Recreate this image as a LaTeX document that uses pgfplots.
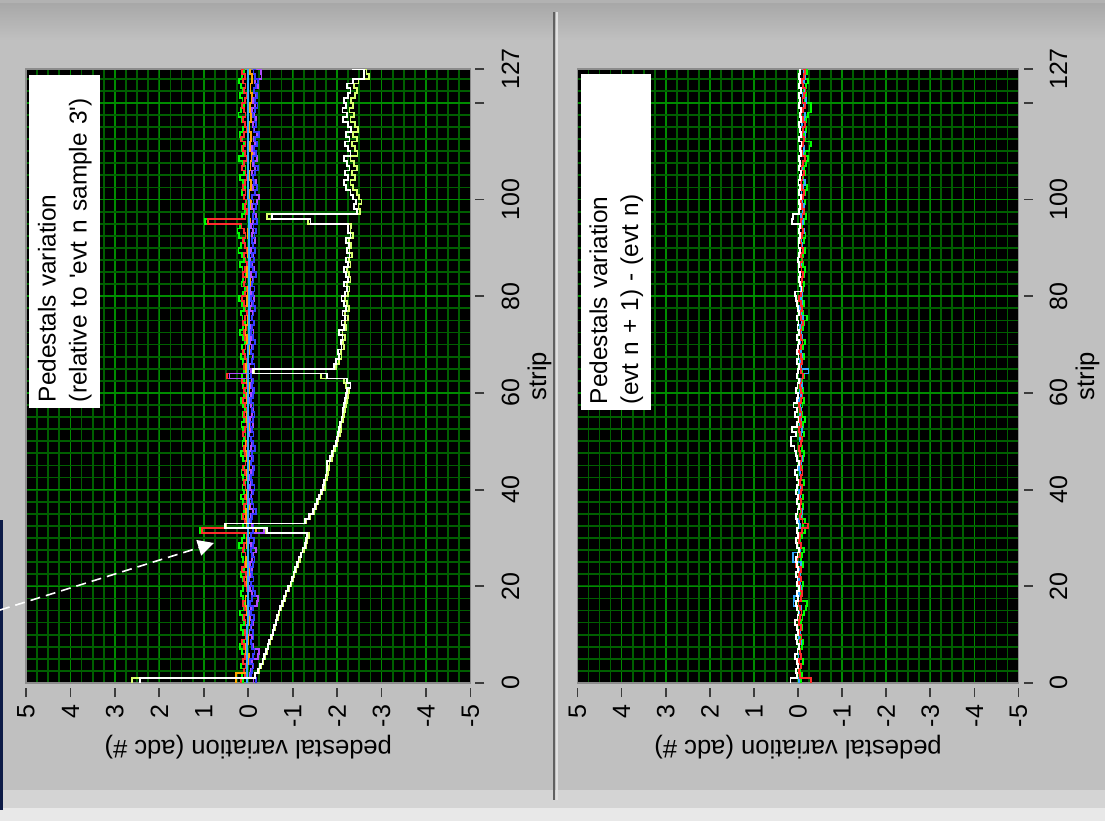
\documentclass[border=0pt]{standalone}
\usepackage{fontspec}
\setmainfont{Liberation Sans}
\usepackage{pgfplots}
\pgfplotsset{compat=1.18}
\usetikzlibrary{arrows.meta}
\definecolor{bgray}{RGB}{192,192,192}
\definecolor{lgrayA}{RGB}{212,212,212}
\definecolor{lgrayB}{RGB}{232,232,232}
\definecolor{navy}{RGB}{12,26,70}
\definecolor{gmaj}{RGB}{0,140,0}
\definecolor{gmin}{RGB}{0,95,0}
\definecolor{sred}{RGB}{255,45,45}
\definecolor{sgreen}{RGB}{0,255,0}
\definecolor{sblue}{RGB}{55,60,255}
\definecolor{spurple}{RGB}{175,75,255}
\definecolor{sorange}{RGB}{255,165,0}
\definecolor{scyan}{RGB}{50,170,255}
\definecolor{syellow}{RGB}{215,255,110}
\definecolor{tickgray}{RGB}{60,60,60}
\definecolor{framegray}{RGB}{140,140,140}
\newcommand\tickfont{\fontsize{12.5}{14}\selectfont}
\newcommand\labfont{\fontsize{12.8}{15.5}\selectfont}
\newcommand\titfont{\fontsize{12.2}{15.5}\selectfont}
\pgfplotsset{
  lvaxis/.style={
    scale only axis, height=307pt,
    xmin=-5, xmax=5, x dir=reverse, ymin=0, ymax=127,
    axis background/.style={fill=black},
    axis line style={draw=framegray, line width=0.6pt},
    xtick={-5,-4,...,5}, xticklabels={-5,-4,-3,-2,-1,0,1,2,3,4,5},
    minor xtick={-4.75,-4.5,...,4.75},
    ytick={0,20,40,60,80,100,120,127}, yticklabels={0,20,40,60,80,100,{},127},
    minor ytick={2.5,5,...,125},
    grid=both,
    every axis grid/.style={color=gmin, line width=0.9pt},
    every major grid/.style={color=gmaj, line width=0.8pt},
    every minor grid/.style={color=gmin, line width=0.9pt},
    tick align=outside, major tick length=4.5pt, minor tick length=0pt,
    major tick style={draw=tickgray, line width=0.9pt},
    xtick style={yshift=-2.5pt}, ytick style={xshift=2.5pt},
    xtick pos=left, ytick pos=right, yticklabel pos=right,
    xticklabel shift=3pt, yticklabel shift=7.5pt,
    xticklabel style={rotate=90, anchor=east, font=\tickfont},
    yticklabel style={rotate=90, anchor=north, font=\tickfont},
    every axis plot/.append style={line width=0.9pt, const plot mark right, no markers},
  }
}
\begin{document}
\begin{tikzpicture}
\useasboundingbox (0,0) rectangle (552.5pt,-410.5pt);
\fill[bgray] (0,0) rectangle (552.5pt,-410.5pt);
\shade[top color=gray!70, bottom color=bgray] (0,0) rectangle (552.5pt,-20pt);
\fill[gray!60] (0,0) rectangle (552.5pt,-1.5pt);
\fill[lgrayA] (0,-395pt) rectangle (552.5pt,-404pt);
\fill[lgrayB] (0,-404pt) rectangle (552.5pt,-410.5pt);
\fill[navy] (0,-260pt) rectangle (1.6pt,-405pt);
\draw[gray!75!black, line width=0.6pt] (277pt,-6pt) -- (277pt,-400pt);
\draw[white!88!black, line width=1.2pt] (278.4pt,-6pt) -- (278.4pt,-400pt);

% ---------------- panel 1 ----------------
\begin{axis}[lvaxis, name=p1, width=222.25pt, at={(13pt,-341.5pt)}, anchor=south west]
\addplot[color=syellow] table[row sep=\\, x=v, y=s] {s v\\
0 2.62\\1 -0.14\\2 -0.24\\3 -0.30\\4 -0.34\\5 -0.38\\6 -0.42\\7 -0.44\\8 -0.50\\9 -0.54\\
10 -0.57\\11 -0.60\\12 -0.63\\13 -0.67\\14 -0.70\\15 -0.74\\16 -0.78\\17 -0.82\\18 -0.86\\19 -0.92\\
20 -0.96\\21 -1.00\\22 -1.04\\23 -1.08\\24 -1.12\\25 -1.16\\26 -1.20\\27 -1.25\\28 -1.30\\29 -1.32\\
30 -1.36\\31 -0.40\\32 0.50\\33 -1.30\\34 -1.40\\35 -1.48\\36 -1.53\\37 -1.58\\38 -1.62\\39 -1.67\\
40 -1.72\\41 -1.74\\42 -1.77\\43 -1.80\\44 -1.82\\45 -1.83\\46 -1.88\\47 -1.92\\48 -1.96\\49 -2.00\\
50 -2.03\\51 -2.06\\52 -2.08\\53 -2.10\\54 -2.14\\55 -2.16\\56 -2.18\\57 -2.20\\58 -2.22\\59 -2.25\\
60 -2.27\\61 -2.20\\62 -2.15\\63 -1.63\\64 -0.14\\65 -1.98\\66 -2.05\\67 -2.10\\68 -2.08\\69 -2.15\\
70 -2.14\\71 -2.18\\72 -2.12\\73 -2.20\\74 -2.18\\75 -2.24\\76 -2.18\\77 -2.26\\78 -2.22\\79 -2.18\\
80 -2.25\\81 -2.28\\82 -2.22\\83 -2.30\\84 -2.27\\85 -2.22\\86 -2.30\\87 -2.27\\88 -2.34\\89 -2.28\\
90 -2.32\\91 -2.27\\92 -2.36\\93 -2.30\\94 -2.32\\95 -1.35\\96 -0.42\\97 -2.52\\98 -2.48\\99 -2.55\\
100 -2.50\\101 -2.44\\102 -2.36\\103 -2.30\\104 -2.40\\105 -2.34\\106 -2.44\\107 -2.38\\108 -2.30\\109 -2.46\\
110 -2.40\\111 -2.34\\112 -2.44\\113 -2.36\\114 -2.47\\115 -2.40\\116 -2.30\\117 -2.38\\118 -2.28\\119 -2.36\\
120 -2.32\\121 -2.40\\122 -2.44\\123 -2.38\\124 -2.48\\125 -2.72\\126 -2.66\\127 -2.40\\
};
\addplot[color=sgreen] table[row sep=\\, x=v, y=s] {s v\\
0 0.12\\1 0.14\\2 0.10\\3 0.16\\4 0.12\\5 0.08\\6 0.14\\7 0.18\\8 0.10\\9 0.06\\
10 0.12\\11 0.16\\12 0.09\\13 0.13\\14 0.18\\15 0.10\\16 0.07\\17 0.12\\18 0.16\\19 0.11\\
20 0.08\\21 0.13\\22 0.17\\23 0.10\\24 0.06\\25 0.12\\26 0.15\\27 0.09\\28 0.20\\29 0.14\\
30 0.10\\31 1.08\\32 0.12\\33 0.08\\34 0.14\\35 0.10\\36 0.06\\37 0.12\\38 0.16\\39 0.09\\
40 0.13\\41 0.07\\42 0.11\\43 0.15\\44 0.10\\45 0.06\\46 0.12\\47 0.16\\48 0.08\\49 0.13\\
50 0.10\\51 0.06\\52 0.12\\53 0.15\\54 0.09\\55 0.13\\56 0.07\\57 0.11\\58 0.16\\59 0.10\\
60 0.07\\61 0.12\\62 0.09\\63 0.14\\64 0.10\\65 0.06\\66 0.12\\67 0.17\\68 0.10\\69 0.14\\
70 0.08\\71 0.12\\72 0.18\\73 0.11\\74 0.07\\75 0.13\\76 0.16\\77 0.09\\78 0.14\\79 0.20\\
80 0.12\\81 0.08\\82 0.15\\83 0.11\\84 0.06\\85 0.13\\86 0.18\\87 0.10\\88 0.14\\89 0.22\\
90 0.16\\91 0.10\\92 0.20\\93 0.24\\94 0.18\\95 0.97\\96 0.14\\97 0.08\\98 0.12\\99 0.06\\
100 0.10\\101 0.14\\102 0.08\\103 0.12\\104 0.18\\105 0.10\\106 0.06\\107 0.13\\108 0.20\\109 0.11\\
110 0.15\\111 0.09\\112 0.14\\113 0.19\\114 0.12\\115 0.08\\116 0.14\\117 0.22\\118 0.16\\119 0.10\\
120 0.13\\121 0.18\\122 0.11\\123 0.16\\124 0.21\\125 0.14\\126 0.10\\127 0.15\\
};
\addplot[color=sred] table[row sep=\\, x=v, y=s] {s v\\
0 0.16\\1 0.08\\2 0.10\\3 0.06\\4 0.12\\5 0.08\\6 0.04\\7 0.10\\8 0.14\\9 0.06\\
10 0.08\\11 0.02\\12 0.06\\13 0.10\\14 0.04\\15 0.08\\16 0.12\\17 0.06\\18 0.00\\19 0.04\\
20 0.08\\21 0.10\\22 0.05\\23 0.14\\24 0.08\\25 0.02\\26 0.06\\27 0.12\\28 0.10\\29 0.04\\
30 0.02\\31 1.04\\32 0.04\\33 0.08\\34 0.12\\35 0.06\\36 0.10\\37 0.04\\38 0.08\\39 0.02\\
40 0.06\\41 0.10\\42 0.04\\43 0.08\\44 0.12\\45 0.06\\46 0.02\\47 0.08\\48 0.10\\49 0.04\\
50 0.06\\51 0.12\\52 0.08\\53 0.02\\54 0.06\\55 0.10\\56 0.04\\57 0.08\\58 0.12\\59 0.06\\
60 0.10\\61 0.04\\62 0.14\\63 0.47\\64 0.06\\65 0.10\\66 0.04\\67 0.08\\68 0.12\\69 0.06\\
70 0.02\\71 0.08\\72 0.10\\73 0.04\\74 0.12\\75 0.08\\76 0.02\\77 0.06\\78 0.10\\79 0.14\\
80 0.08\\81 0.04\\82 0.10\\83 0.06\\84 0.12\\85 0.08\\86 0.02\\87 0.06\\88 0.10\\89 0.04\\
90 0.08\\91 0.12\\92 0.06\\93 0.10\\94 0.15\\95 0.90\\96 0.06\\97 0.02\\98 0.08\\99 0.04\\
100 0.10\\101 0.06\\102 0.12\\103 0.08\\104 0.02\\105 0.06\\106 0.14\\107 0.10\\108 0.04\\109 0.08\\
110 0.12\\111 0.06\\112 0.16\\113 0.10\\114 0.04\\115 0.08\\116 0.12\\117 0.06\\118 0.10\\119 0.14\\
120 0.08\\121 0.04\\122 0.10\\123 0.06\\124 0.12\\125 0.08\\126 0.14\\127 0.10\\
};
\addplot[color=sorange] table[row sep=\\, x=v, y=s] {s v\\
0 0.27\\2 0.02\\4 -0.02\\6 0.05\\8 0.00\\10 0.04\\12 -0.03\\14 0.03\\16 0.06\\18 0.00\\
20 0.03\\22 -0.02\\24 0.05\\26 0.01\\28 0.04\\30 0.00\\31 -0.18\\32 0.02\\34 0.05\\36 -0.01\\
38 0.03\\40 0.00\\42 0.04\\44 -0.02\\46 0.03\\48 0.06\\50 0.01\\52 -0.02\\54 0.04\\56 0.00\\
58 0.03\\60 -0.03\\62 0.02\\64 0.05\\66 0.00\\68 -0.03\\70 0.03\\72 0.06\\74 0.01\\76 -0.02\\
78 0.03\\80 0.00\\82 -0.04\\84 0.02\\86 -0.02\\88 0.01\\90 -0.03\\92 0.00\\94 -0.05\\96 -0.02\\
98 -0.06\\100 -0.03\\102 -0.07\\104 -0.02\\106 -0.05\\108 -0.08\\110 -0.04\\112 -0.06\\114 -0.02\\116 -0.07\\
118 -0.04\\120 -0.09\\122 -0.05\\124 -0.08\\126 -0.04\\127 -0.06\\
};
\addplot[color=spurple] table[row sep=\\, x=v, y=s] {s v\\
0 -0.12\\1 -0.04\\2 -0.06\\3 -0.10\\4 -0.08\\5 -0.22\\6 -0.24\\7 -0.10\\8 -0.05\\9 -0.08\\
10 -0.03\\11 -0.07\\12 -0.10\\13 -0.05\\14 -0.02\\15 -0.06\\16 -0.20\\17 -0.22\\18 -0.08\\19 -0.04\\
20 -0.07\\21 -0.03\\22 -0.06\\23 -0.09\\24 -0.04\\25 -0.08\\26 -0.12\\27 -0.18\\28 -0.06\\29 -0.03\\
30 -0.05\\31 -0.35\\32 -0.08\\33 -0.04\\34 -0.07\\35 -0.10\\36 -0.05\\37 -0.02\\38 -0.06\\39 -0.09\\
40 -0.04\\41 -0.07\\42 -0.03\\43 -0.06\\44 -0.10\\45 -0.05\\46 -0.08\\47 -0.03\\48 -0.06\\49 -0.09\\
50 -0.05\\51 -0.02\\52 -0.07\\53 -0.10\\54 -0.04\\55 -0.08\\56 -0.12\\57 -0.06\\58 -0.03\\59 -0.07\\
60 -0.10\\61 -0.05\\62 -0.08\\63 0.42\\64 -0.06\\65 -0.03\\66 -0.08\\67 -0.11\\68 -0.05\\69 -0.09\\
70 -0.04\\71 -0.07\\72 -0.12\\73 -0.06\\74 -0.03\\75 -0.08\\76 -0.10\\77 -0.05\\78 -0.09\\79 -0.13\\
80 -0.06\\81 -0.04\\82 -0.08\\83 -0.11\\84 -0.07\\85 -0.14\\86 -0.09\\87 -0.05\\88 -0.10\\89 -0.07\\
90 -0.12\\91 -0.16\\92 -0.08\\93 -0.11\\94 -0.06\\95 -0.10\\96 -0.18\\97 -0.12\\98 -0.08\\99 -0.20\\
100 -0.24\\101 -0.14\\102 -0.10\\103 -0.18\\104 -0.12\\105 -0.08\\106 -0.15\\107 -0.11\\108 -0.19\\109 -0.13\\
110 -0.09\\111 -0.16\\112 -0.12\\113 -0.20\\114 -0.14\\115 -0.10\\116 -0.17\\117 -0.13\\118 -0.08\\119 -0.15\\
120 -0.11\\121 -0.18\\122 -0.14\\123 -0.22\\124 -0.16\\125 -0.30\\126 -0.28\\127 -0.20\\
};
\addplot[color=sblue] table[row sep=\\, x=v, y=s] {s v\\
0 -0.18\\1 -0.06\\2 -0.08\\3 -0.12\\4 -0.04\\5 -0.10\\6 -0.14\\7 -0.08\\8 -0.06\\9 -0.12\\
10 -0.10\\11 -0.05\\12 -0.09\\13 -0.13\\14 -0.07\\15 -0.11\\16 -0.04\\17 -0.08\\18 -0.15\\19 -0.10\\
20 -0.06\\21 -0.12\\22 -0.08\\23 -0.05\\24 -0.11\\25 -0.14\\26 -0.09\\27 -0.06\\28 -0.10\\29 -0.13\\
30 -0.07\\31 -0.10\\32 -0.12\\33 -0.06\\34 -0.09\\35 -0.18\\36 -0.12\\37 -0.08\\38 -0.05\\39 -0.11\\
40 -0.14\\41 -0.09\\42 -0.06\\43 -0.10\\44 -0.13\\45 -0.07\\46 -0.11\\47 -0.08\\48 -0.15\\49 -0.10\\
50 -0.06\\51 -0.12\\52 -0.09\\53 -0.05\\54 -0.11\\55 -0.14\\56 -0.08\\57 -0.12\\58 -0.06\\59 -0.10\\
60 -0.13\\61 -0.08\\62 -0.11\\63 -0.06\\64 -0.10\\65 -0.14\\66 -0.09\\67 -0.12\\68 -0.07\\69 -0.10\\
70 -0.15\\71 -0.11\\72 -0.06\\73 -0.09\\74 -0.13\\75 -0.08\\76 -0.12\\77 -0.16\\78 -0.10\\79 -0.07\\
80 -0.11\\81 -0.14\\82 -0.09\\83 -0.12\\84 -0.18\\85 -0.10\\86 -0.07\\87 -0.13\\88 -0.09\\89 -0.15\\
90 -0.11\\91 -0.08\\92 -0.14\\93 -0.17\\94 -0.12\\95 -0.20\\96 -0.10\\97 -0.14\\98 -0.18\\99 -0.12\\
100 -0.09\\101 -0.15\\102 -0.20\\103 -0.13\\104 -0.10\\105 -0.16\\106 -0.22\\107 -0.14\\108 -0.11\\109 -0.17\\
110 -0.13\\111 -0.20\\112 -0.15\\113 -0.24\\114 -0.12\\115 -0.18\\116 -0.14\\117 -0.10\\118 -0.16\\119 -0.21\\
120 -0.15\\121 -0.19\\122 -0.13\\123 -0.17\\124 -0.22\\125 -0.16\\126 -0.12\\127 -0.18\\
};
\addplot[color=scyan] table[row sep=\\, x=v, y=s] {s v\\
0 0.02\\12 0.00\\30 0.01\\45 0.00\\70 -0.01\\100 0.00\\127 0.01\\
};
\addplot[color=white] table[row sep=\\, x=v, y=s] {s v\\
0 2.43\\1 -0.16\\2 -0.22\\3 -0.27\\4 -0.32\\5 -0.36\\6 -0.40\\7 -0.45\\8 -0.47\\9 -0.52\\
10 -0.55\\11 -0.58\\12 -0.62\\13 -0.64\\14 -0.68\\15 -0.72\\16 -0.76\\17 -0.80\\18 -0.84\\19 -0.90\\
20 -0.95\\21 -0.98\\22 -1.02\\23 -1.05\\24 -1.10\\25 -1.13\\26 -1.18\\27 -1.22\\28 -1.28\\29 -1.30\\
30 -1.33\\31 -0.43\\32 0.52\\33 -1.28\\34 -1.36\\35 -1.46\\36 -1.50\\37 -1.55\\38 -1.60\\39 -1.64\\
40 -1.69\\41 -1.70\\42 -1.74\\43 -1.76\\44 -1.78\\45 -1.78\\46 -1.84\\47 -1.88\\48 -1.92\\49 -1.97\\
50 -2.00\\51 -2.02\\52 -2.04\\53 -2.07\\54 -2.10\\55 -2.12\\56 -2.13\\57 -2.16\\58 -2.18\\59 -2.20\\
60 -2.23\\61 -2.30\\62 -2.23\\63 -1.78\\64 -0.11\\65 -1.93\\66 -1.98\\67 -2.05\\68 -2.02\\69 -2.10\\
70 -2.08\\71 -2.12\\72 -2.05\\73 -2.15\\74 -2.10\\75 -2.18\\76 -2.12\\77 -2.20\\78 -2.16\\79 -2.10\\
80 -2.18\\81 -2.22\\82 -2.15\\83 -2.25\\84 -2.20\\85 -2.16\\86 -2.24\\87 -2.20\\88 -2.28\\89 -2.22\\
90 -2.26\\91 -2.20\\92 -2.30\\93 -2.24\\94 -2.25\\95 -1.40\\96 -0.54\\97 -2.45\\98 -2.38\\99 -2.42\\
100 -2.35\\101 -2.30\\102 -2.20\\103 -2.15\\104 -2.25\\105 -2.18\\106 -2.28\\107 -2.22\\108 -2.15\\109 -2.30\\
110 -2.24\\111 -2.18\\112 -2.28\\113 -2.20\\114 -2.32\\115 -2.25\\116 -2.14\\117 -2.22\\118 -2.12\\119 -2.20\\
120 -2.15\\121 -2.25\\122 -2.30\\123 -2.22\\124 -2.35\\125 -2.60\\126 -2.60\\127 -2.34\\
};
\end{axis}

% ---------------- panel 2 ----------------
\begin{axis}[lvaxis, name=p2, width=220.5pt, at={(288.75pt,-341.5pt)}, anchor=south west]
\addplot[color=sgreen] table[row sep=\\, x=v, y=s] {s v\\
0 -0.06\\1 -0.09\\2 -0.05\\3 -0.08\\4 -0.11\\5 -0.07\\6 -0.04\\7 -0.09\\8 -0.12\\9 -0.07\\
10 -0.05\\11 -0.09\\12 -0.06\\13 -0.10\\14 -0.13\\15 -0.19\\16 -0.20\\17 -0.08\\18 -0.05\\19 -0.09\\
20 -0.12\\21 -0.07\\22 -0.04\\23 -0.08\\24 -0.11\\25 -0.06\\26 -0.09\\27 -0.13\\28 -0.08\\29 -0.05\\
30 -0.09\\31 -0.15\\32 -0.12\\33 -0.16\\34 -0.10\\35 -0.07\\36 -0.11\\37 -0.08\\38 -0.12\\39 -0.06\\
40 -0.09\\41 -0.13\\42 -0.08\\43 -0.05\\44 -0.10\\45 -0.07\\46 -0.11\\47 -0.14\\48 -0.09\\49 -0.06\\
50 -0.10\\51 -0.13\\52 -0.08\\53 -0.11\\54 -0.15\\55 -0.09\\56 -0.06\\57 -0.10\\58 -0.13\\59 -0.08\\
60 -0.11\\61 -0.07\\62 -0.10\\63 -0.14\\64 -0.09\\65 -0.06\\66 -0.10\\67 -0.13\\68 -0.08\\69 -0.11\\
70 -0.15\\71 -0.10\\72 -0.07\\73 -0.11\\74 -0.14\\75 -0.20\\76 -0.12\\77 -0.09\\78 -0.13\\79 -0.10\\
80 -0.07\\81 -0.11\\82 -0.14\\83 -0.10\\84 -0.13\\85 -0.16\\86 -0.11\\87 -0.08\\88 -0.12\\89 -0.15\\
90 -0.10\\91 -0.13\\92 -0.17\\93 -0.12\\94 -0.09\\95 -0.14\\96 -0.18\\97 -0.13\\98 -0.10\\99 -0.15\\
100 -0.12\\101 -0.16\\102 -0.20\\103 -0.14\\104 -0.11\\105 -0.16\\106 -0.13\\107 -0.18\\108 -0.22\\109 -0.15\\
110 -0.26\\111 -0.30\\112 -0.17\\113 -0.14\\114 -0.19\\115 -0.15\\116 -0.18\\117 -0.22\\118 -0.30\\119 -0.29\\
120 -0.16\\121 -0.19\\122 -0.14\\123 -0.18\\124 -0.22\\125 -0.16\\126 -0.20\\127 -0.17\\
};
\addplot[color=scyan] table[row sep=\\, x=v, y=s] {s v\\
0 -0.03\\1 -0.05\\2 -0.02\\3 -0.06\\4 -0.03\\5 -0.01\\6 -0.05\\7 -0.03\\8 -0.06\\9 -0.02\\
10 -0.04\\11 -0.07\\12 -0.03\\13 -0.05\\14 -0.02\\15 -0.06\\16 0.10\\17 0.09\\18 -0.03\\19 -0.06\\
20 -0.04\\21 -0.02\\22 -0.05\\23 -0.03\\24 -0.07\\25 0.12\\26 0.11\\27 -0.04\\28 -0.06\\29 -0.03\\
30 -0.05\\31 -0.08\\32 -0.04\\33 -0.02\\34 -0.06\\35 -0.10\\36 -0.04\\37 -0.07\\38 -0.05\\39 -0.03\\
40 -0.06\\41 -0.04\\42 -0.08\\43 -0.05\\44 -0.03\\45 -0.06\\46 -0.09\\47 -0.05\\48 -0.03\\49 -0.07\\
50 -0.04\\51 -0.06\\52 -0.09\\53 -0.05\\54 -0.07\\55 -0.04\\56 -0.08\\57 -0.05\\58 -0.03\\59 -0.07\\
60 -0.05\\61 -0.09\\62 -0.06\\63 -0.10\\64 -0.24\\65 -0.07\\66 -0.05\\67 -0.09\\68 -0.06\\69 -0.08\\
70 -0.05\\71 -0.09\\72 -0.07\\73 -0.04\\74 -0.08\\75 -0.11\\76 -0.07\\77 -0.05\\78 -0.09\\79 -0.06\\
80 -0.10\\81 -0.07\\82 -0.05\\83 -0.09\\84 -0.12\\85 -0.08\\86 -0.06\\87 -0.10\\88 -0.07\\89 -0.12\\
90 -0.09\\91 -0.06\\92 -0.10\\93 -0.13\\94 -0.08\\95 -0.11\\96 -0.07\\97 -0.10\\98 -0.14\\99 -0.09\\
100 -0.12\\101 -0.08\\102 -0.11\\103 -0.15\\104 -0.10\\105 -0.13\\106 -0.09\\107 -0.12\\108 -0.16\\109 -0.11\\
110 -0.14\\111 -0.10\\112 -0.13\\113 -0.17\\114 -0.12\\115 -0.09\\116 -0.13\\117 -0.16\\118 -0.11\\119 -0.14\\
120 -0.18\\121 -0.12\\122 -0.15\\123 -0.11\\124 -0.14\\125 -0.17\\126 -0.13\\127 -0.15\\
};
\addplot[color=sred] table[row sep=\\, x=v, y=s] {s v\\
0 -0.30\\1 -0.05\\2 -0.02\\3 -0.06\\4 -0.03\\5 -0.07\\6 -0.04\\7 -0.01\\8 -0.05\\9 -0.08\\
10 -0.03\\11 -0.06\\12 -0.02\\13 -0.05\\14 -0.08\\15 -0.04\\16 -0.01\\17 -0.06\\18 -0.09\\19 -0.04\\
20 -0.02\\21 -0.06\\22 -0.03\\23 -0.07\\24 0.04\\25 0.02\\26 -0.05\\27 -0.03\\28 -0.06\\29 -0.02\\
30 -0.05\\31 -0.09\\32 -0.22\\33 -0.10\\34 -0.05\\35 -0.08\\36 -0.04\\37 -0.07\\38 -0.03\\39 -0.06\\
40 -0.09\\41 -0.05\\42 -0.07\\43 -0.10\\44 -0.06\\45 -0.04\\46 -0.08\\47 -0.05\\48 -0.03\\49 -0.06\\
50 -0.09\\51 -0.05\\52 -0.02\\53 -0.06\\54 -0.04\\55 -0.08\\56 -0.05\\57 -0.03\\58 -0.07\\59 -0.10\\
60 -0.06\\61 -0.04\\62 -0.08\\63 -0.12\\64 -0.07\\65 -0.05\\66 -0.09\\67 -0.06\\68 -0.03\\69 -0.07\\
70 -0.10\\71 -0.06\\72 -0.04\\73 -0.08\\74 -0.11\\75 -0.07\\76 -0.05\\77 -0.09\\78 -0.06\\79 -0.03\\
80 -0.07\\81 -0.10\\82 -0.06\\83 -0.09\\84 -0.12\\85 -0.08\\86 -0.05\\87 -0.10\\88 -0.07\\89 -0.11\\
90 -0.08\\91 -0.05\\92 -0.09\\93 -0.12\\94 -0.08\\95 -0.06\\96 -0.10\\97 -0.13\\98 -0.09\\99 -0.07\\
100 -0.11\\101 -0.14\\102 -0.09\\103 -0.06\\104 -0.10\\105 -0.13\\106 -0.08\\107 -0.12\\108 -0.15\\109 -0.10\\
110 -0.07\\111 -0.11\\112 -0.14\\113 -0.09\\114 -0.12\\115 -0.16\\116 -0.11\\117 -0.08\\118 -0.12\\119 -0.15\\
120 -0.10\\121 -0.13\\122 -0.17\\123 -0.12\\124 -0.09\\125 -0.13\\126 -0.16\\127 -0.11\\
};
\addplot[color=white] table[row sep=\\, x=v, y=s] {s v\\
0 0.17\\1 0.02\\2 0.04\\3 0.00\\4 0.03\\5 0.06\\6 0.01\\7 -0.02\\8 0.03\\9 0.05\\
10 0.00\\11 0.02\\12 0.06\\13 0.01\\14 -0.01\\15 0.03\\16 0.05\\17 0.00\\18 0.02\\19 -0.02\\
20 0.03\\21 0.01\\22 0.04\\23 0.00\\24 0.02\\25 0.05\\26 0.01\\27 -0.02\\28 0.02\\29 0.04\\
30 0.00\\31 0.03\\32 -0.01\\33 0.02\\34 0.05\\35 0.01\\36 -0.02\\37 0.03\\38 0.00\\39 0.04\\
40 0.02\\41 -0.01\\42 0.03\\43 0.06\\44 0.01\\45 -0.02\\46 0.02\\47 0.05\\48 0.08\\49 0.15\\
50 0.16\\51 0.05\\52 0.13\\53 0.02\\54 -0.01\\55 0.06\\56 0.02\\57 0.10\\58 0.03\\59 0.00\\
60 0.04\\61 0.01\\62 -0.02\\63 0.03\\64 0.00\\65 -0.03\\66 0.02\\67 -0.01\\68 0.03\\69 0.00\\
70 -0.02\\71 0.02\\72 -0.03\\73 0.01\\74 -0.01\\75 0.02\\76 -0.02\\77 0.00\\78 0.03\\79 0.05\\
80 0.06\\81 -0.08\\82 -0.05\\83 -0.02\\84 -0.04\\85 -0.01\\86 -0.03\\87 0.00\\88 -0.02\\89 -0.04\\
90 -0.01\\91 -0.03\\92 -0.05\\93 -0.02\\94 -0.04\\95 0.13\\96 0.12\\97 -0.03\\98 -0.05\\99 -0.02\\
100 -0.06\\101 -0.03\\102 -0.05\\103 -0.01\\104 -0.04\\105 -0.07\\106 -0.03\\107 -0.05\\108 -0.02\\109 -0.06\\
110 -0.04\\111 -0.08\\112 -0.03\\113 -0.06\\114 -0.04\\115 -0.02\\116 -0.07\\117 -0.04\\118 -0.06\\119 -0.03\\
120 -0.05\\121 -0.02\\122 -0.06\\123 -0.03\\124 -0.05\\125 -0.02\\126 -0.04\\127 -0.03\\
};
\end{axis}

% axis labels
\node[rotate=180, font=\labfont] at ([yshift=-32pt]p1.south) {pedestal variation (adc \#)};
\node[rotate=180, font=\labfont] at ([yshift=-32pt]p2.south) {pedestal variation (adc \#)};
\node[rotate=90, font=\labfont] at ([xshift=34.5pt]p1.east) {strip};
\node[rotate=90, font=\labfont] at ([xshift=34.5pt]p2.east) {strip};

% title boxes
\node[fill=white, rotate=90, anchor=north west, minimum width=166.5pt, minimum height=35.5pt,
      text width=161pt, inner xsep=2.75pt, inner ysep=0pt, align=left, font=\titfont]
  at (14.5pt,-204pt) {Pedestals variation\\(relative to \textquotesingle evt n sample 3\textquotesingle)};
\node[fill=white, rotate=90, anchor=north west, minimum width=168pt, minimum height=35pt,
      text width=162.5pt, inner xsep=2.75pt, inner ysep=0pt, align=left, font=\titfont]
  at (290.5pt,-205pt) {Pedestals variation\\(evt n + 1) - (evt n)};

% annotation arrow
\draw[white, line width=0.8pt, dash pattern=on 5pt off 3pt, -{Triangle[length=8pt,width=8pt]}]
  (0pt,-305pt) -- (107pt,-271.5pt);
\end{tikzpicture}
\end{document}
